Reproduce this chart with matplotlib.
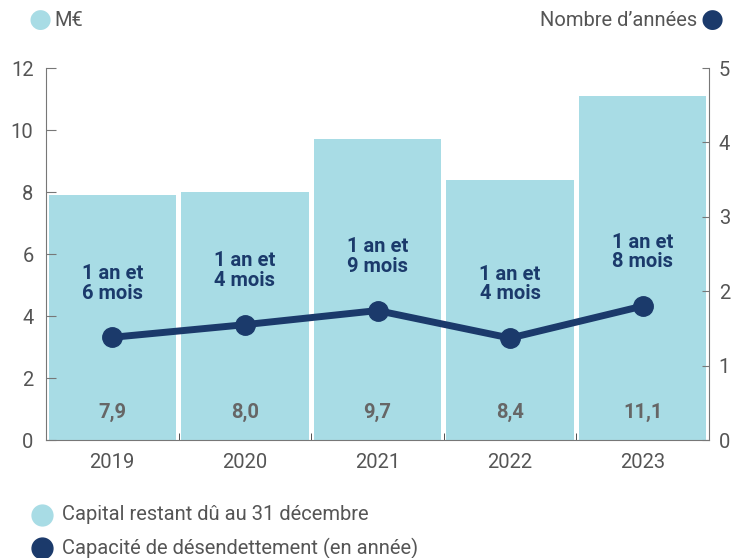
import matplotlib.pyplot as plt
from matplotlib.lines import Line2D
import numpy as np

plt.rcParams["font.family"] = ["Roboto", "DejaVu Sans"]

years = ["2019", "2020", "2021", "2022", "2023"]
capital = [7.9, 8.0, 9.7, 8.4, 11.1]
capital_labels = ["7,9", "8,0", "9,7", "8,4", "11,1"]
capacite = [1.38, 1.55, 1.74, 1.37, 1.80]
capacite_labels = ["1 an et\n6 mois", "1 an et\n4 mois", "1 an et\n9 mois",
                   "1 an et\n4 mois", "1 an et\n8 mois"]
legend_labels = ["Capital restant dû au 31 décembre",
                 "Capacité de désendettement (en année)"]

BAR = "#a8dce5"
NAVY = "#1b3a6b"
TXT = "#555555"
FS = 14.5

fig = plt.figure(figsize=(7.33, 5.58), dpi=100)
ax = fig.add_axes([46 / 733, 118 / 558, 663 / 733, 372 / 558])
ax2 = ax.twinx()

x = np.arange(len(years))
ax.bar(x, capital, width=0.96, color=BAR, zorder=1)
for xi, lab in zip(x, capital_labels):
    ax.text(xi, 0.9, lab, ha="center", va="center", fontsize=FS,
            fontweight="bold", color="#666666")

ax.set_xlim(-0.5, len(years) - 0.5)
ax.set_ylim(0, 12)
ax.set_yticks(range(0, 13, 2))
ax.set_xticks(x)
ax.set_xticklabels(years)
ax.set_xticks(np.arange(0.5, len(years) - 1, 1), minor=True)
ax.tick_params(axis="x", which="major", length=0, pad=9, labelsize=FS, labelcolor=TXT)
ax.tick_params(axis="x", which="minor", direction="in", length=5, color="#333333")
ax.tick_params(axis="y", direction="in", length=7, labelsize=FS, labelcolor=TXT,
               color="#777777", pad=9)
for s in ["top", "right"]:
    ax.spines[s].set_visible(False)
ax.spines["left"].set_color("#777777")
ax.spines["bottom"].set_color("#777777")

ax2.plot(x, capacite, color=NAVY, lw=5, marker="o", markersize=14, zorder=3,
         solid_capstyle="round")
for xi, yi, lab in zip(x, capacite, capacite_labels):
    ax2.annotate(lab, (xi, yi), xytext=(0, 39), textcoords="offset points",
                 ha="center", va="center", fontsize=FS, fontweight="bold",
                 color=NAVY, linespacing=1.05)
ax2.set_ylim(0, 5)
ax2.set_yticks(range(0, 6))
ax2.tick_params(axis="y", direction="in", length=5, labelsize=FS, labelcolor=TXT,
                color="#777777", pad=7)
for s in ["top", "left", "bottom"]:
    ax2.spines[s].set_visible(False)
ax2.spines["right"].set_color("#777777")

# top legend markers
fig.text(40 / 733, 1 - 20 / 558, "\u25CF", color=BAR, fontsize=19, ha="center", va="center")
fig.text(54 / 733, 1 - 20 / 558, "M€", color=TXT, fontsize=FS, ha="left", va="center")
fig.text(712 / 733, 1 - 20 / 558, "\u25CF", color=NAVY, fontsize=19, ha="center", va="center")
fig.text(697 / 733, 1 - 20 / 558, "Nombre d\u2019années", color=TXT, fontsize=FS,
         ha="right", va="center")

# bottom legend
for ypx, col, lab in zip([515, 548], [BAR, NAVY], legend_labels):
    yf = 1 - ypx / 558
    fig.add_artist(Line2D([42 / 733], [yf], ls="", marker="o", markersize=15,
                          color=col, transform=fig.transFigure))
    fig.text(62 / 733, yf, lab, color=TXT, fontsize=FS, ha="left", va="center")

fig.savefig("out.png", dpi=100)
